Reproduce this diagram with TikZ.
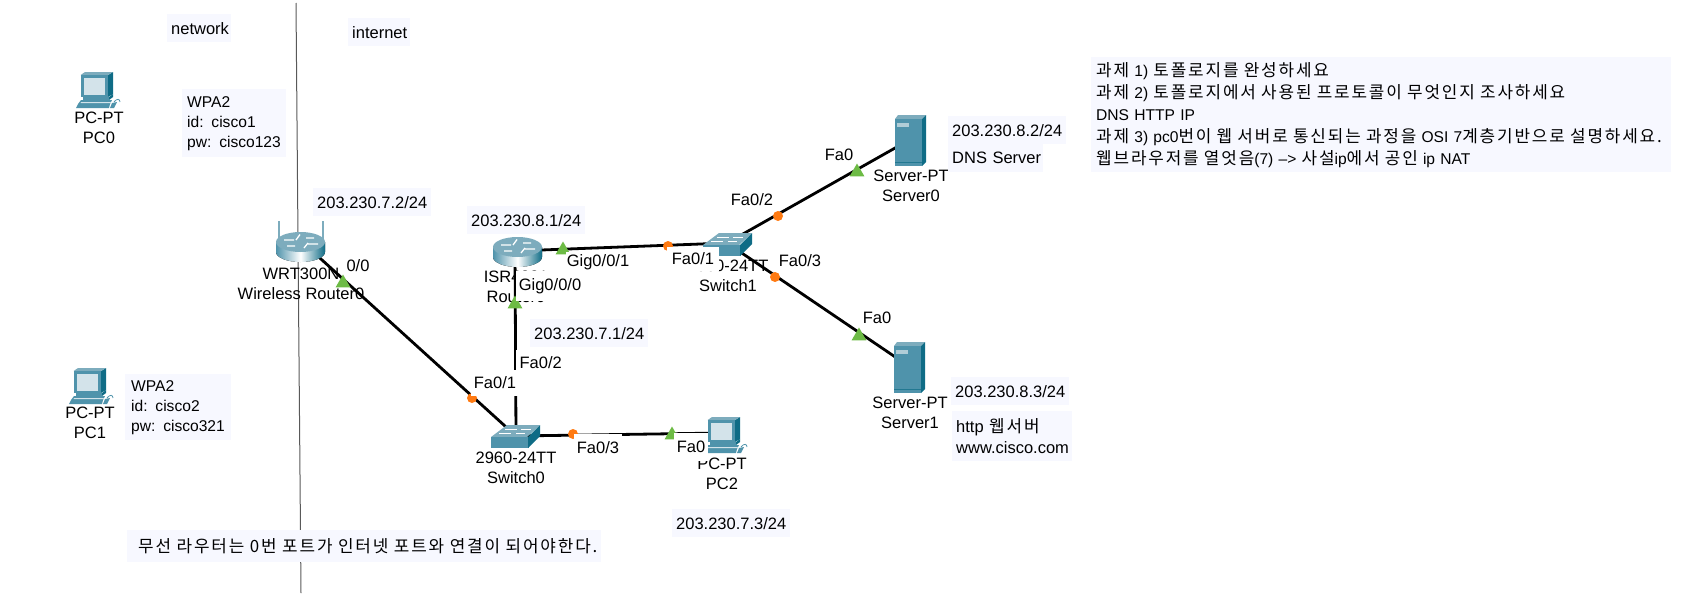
\documentclass[tikz,border=0pt]{standalone}
\usepackage{fontspec}
\usetikzlibrary{shapes.geometric}
\setmainfont{Liberation Sans}
\newfontfamily\krf[LetterSpace=11,WordSpace=1.2]{Noto Sans CJK KR}
\newcommand{\K}[1]{{\krf\fontsize{16.9}{20}\selectfont #1}}
\definecolor{boxbg}{HTML}{F7F8FF}
\definecolor{pcfront}{HTML}{4F93AB}
\definecolor{pcside}{HTML}{0F6C86}
\definecolor{pclight}{HTML}{D3E3EA}
\definecolor{pctop}{HTML}{7DACBD}
\definecolor{okgreen}{HTML}{6DBB45}
\definecolor{portor}{HTML}{FF7A12}
\tikzset{
  x=1pt,y=-1pt,
  every node/.style={font=\fontsize{16.5}{20.3}\selectfont,text=black,inner sep=0pt},
  bx/.style 2 args={fill=boxbg,anchor=north west,minimum height=#2pt,text width=#1pt-8pt,inner xsep=4pt,align=left},
  devlabel/.style={align=center},
  portlabel/.style={fill=white,inner xsep=1pt,inner ysep=2pt},
  anchorpt/.style={minimum size=2pt},
  link/.style={line width=2.8pt,black},
  divider/.style={line width=1pt,black!65},
  portdot/.style={circle,fill=portor,minimum size=10pt},
  porttri/.style={regular polygon,regular polygon sides=3,fill=okgreen,minimum size=17pt},
}
\newcommand{\pcicon}[2]{\begin{scope}[shift={(#1,#2)}]
  \fill[pcside] (32,3) -- (37,0) -- (37,22) -- (32,25) -- cycle;
  \fill[pctop] (4.7,3) -- (9,0) -- (37,0) -- (32,3) -- cycle;
  \fill[pcfront] (4.7,3) rectangle (32,25);
  \fill[pclight] (7.5,5.5) rectangle (29,22.5);
  \fill[pcfront] (7,25) rectangle (33,28);
  \fill[pcside] (33,28) -- (37,25) -- (37,22) -- (33,25) -- cycle;
  \fill[pcfront] (5,28) -- (36,28) -- (34,32) -- (2,32) -- cycle;
  \fill[pclight] (5,30) -- (35,30) -- (34.5,31) -- (4.5,31) -- cycle;
  \fill[pcfront] (2,32) -- (34,32) -- (33,36) -- (0,36) -- cycle;
  \fill[pcfront] (36,31) -- (41,30) -- (38,36) -- (34,36) -- cycle;
  \draw[pcfront,line width=.8pt] (38,30) .. controls (41,26) and (44,27) .. (44,30);
\end{scope}}
\newcommand{\servericon}[2]{\begin{scope}[shift={(#1,#2)}]
  \fill[pctop] (0,4) -- (3,0) -- (31,0) -- (27,4) -- cycle;
  \fill[pcside] (27,4) -- (31,0) -- (31,47) -- (27,51) -- cycle;
  \fill[pcfront] (0,4) rectangle (27,51);
  \fill[pcside!70!pcfront] (0,47) rectangle (27,48);
  \fill[pctop!60!white] (2,7.5) rectangle (14,12);
\end{scope}}
\newcommand{\routericon}[2]{\begin{scope}[shift={(#1,#2)}]
  \fill[left color=pcfront,right color=pcside,middle color=white] (0,10) -- (0,20) arc[start angle=180,end angle=0,x radius=24.5,y radius=10] -- (49,10) -- cycle;
  \fill[pctop] (24.5,10) ellipse[x radius=24.5,y radius=10];
  \draw[white,line width=1.3pt] (8,8) -- (18,8) (24,2.5) -- (20,8) (28,16) -- (32,11) (32,12) -- (42,12) (11,14) -- (19,14) (30,6) -- (38,6);
\end{scope}}
\newcommand{\switchicon}[2]{\begin{scope}[shift={(#1,#2)}]
  \fill[pctop] (0,12) -- (16,0) -- (49,0) -- (36,12) -- cycle;
  \fill[pcfront] (0,12) rectangle (38,23);
  \fill[pcside] (37,12) -- (49,0) -- (49,11) -- (37,23) -- cycle;
  \draw[white,line width=.8pt] (14,4) -- (26,4) (30,4) -- (40,4) (8,8) -- (20,8) (25,8) -- (34,8);
\end{scope}}
\begin{document}
\begin{tikzpicture}
\useasboundingbox (0,0) rectangle (1705,597);
% named anchors
\node[anchorpt] (wr) at (300,240) {};
\node[anchorpt] (isr) at (515,251) {};
\node[anchorpt] (sw0) at (516,436) {};
\node[anchorpt] (sw1) at (727,243) {};
\node[anchorpt] (srv0) at (911,139) {};
\node[anchorpt] (srv1) at (910,367) {};
\node[anchorpt] (pc2) at (722,433) {};
\coordinate (divtop) at (296,3);
\coordinate (divbot) at (301,593);
\draw[divider] (divtop) -- (divbot);
% device labels
\node[devlabel] (lpc0) at (99,127.5) {PC-PT\\PC0};
\node[devlabel] (lpc1) at (90,423) {PC-PT\\PC1};
\node[devlabel] (lwr) at (301,283.5) {WRT300N\\Wireless Router0};
\node[devlabel] (lisr) at (516,286.5) {ISR4331\\Router0};
\node[devlabel] (lsw0) at (516,467.5) {2960-24TT\\Switch0};
\node[devlabel] (lsw1) at (728,276) {2960-24TT\\Switch1};
\node[devlabel] (lpc2) at (722,473.5) {PC-PT\\PC2};
\node[devlabel] (lsrv0) at (911,186) {Server-PT\\Server0};
\node[devlabel] (lsrv1) at (910,412.5) {Server-PT\\Server1};
% links
\draw[link] (wr) -- (sw0);
\draw[link] (isr) -- (sw0);
\draw[link] (isr) -- (sw1);
\draw[link] (sw0) -- (pc2);
\draw[link] (sw1) -- (srv0);
\draw[link] (sw1) -- (srv1);
% icons
\pcicon{76}{72}
\pcicon{69}{368}
\pcicon{703}{417}
\draw[pctop,line width=1.2pt] (279,221) -- (279,240) (323,221) -- (323,240);
\routericon{276}{232}
\routericon{493}{237}
\switchicon{491}{425}
\switchicon{703}{233}
\servericon{895}{115}
\servericon{894}{342}
% port markers
\node[porttri] (t1) at (343,283) {};
\node[porttri] (t2) at (563,250) {};
\node[porttri] (t3) at (515,304) {};
\node[porttri] (t4) at (672,435) {};
\node[porttri] (t5) at (857,172) {};
\node[porttri] (t6) at (859,336) {};
\node[portdot] (d1) at (472,398) {};
\node[portdot] (d2) at (573,434) {};
\node[portdot] (d3) at (668,246) {};
\node[portdot] (d4) at (778,216) {};
\node[portdot] (d5) at (775,277) {};
% port labels
\node[portlabel] (p00) at (358,266) {0/0};
\node[portlabel] (pg1) at (598,262) {Gig0/0/1};
\node[portlabel,inner xsep=3pt,inner ysep=7pt] (pg0) at (550,286) {Gig0/0/0};
\node[portlabel,inner ysep=7pt,inner xsep=4pt] (pf2) at (540.7,363) {Fa0/2};
\node[portlabel,inner ysep=6.5pt,minimum width=48pt] (pf1) at (495,383) {Fa0/1};
\node[portlabel,inner ysep=8pt,inner xsep=3pt] (pf3) at (598,448) {Fa0/3};
\node[portlabel,inner xsep=3pt,inner ysep=8pt] (pf0) at (691,447) {Fa0};
\node[portlabel,inner xsep=5pt,inner ysep=6pt] (ps1) at (693,259) {Fa0/1};
\node[portlabel] (ps2) at (752,200) {Fa0/2};
\node[portlabel] (ps3) at (800,261) {Fa0/3};
\node[portlabel] (ps0) at (839,155) {Fa0};
\node[portlabel] (ps4) at (877,318) {Fa0};
% notes
\node[bx={64}{28},align=center] (tnet) at (167,14) {network};
\node[bx={62}{28},align=center] (tint) at (348,18) {internet};
\node[bx={102}{68},inner xsep=5pt,font=\fontsize{15.6}{20}\selectfont] (twp1) at (182,89) {\mbox{WPA2}\\\mbox{id: cisco1}\\\mbox{pw: cisco123}};
\node[bx={102}{66},inner xsep=6pt,font=\fontsize{15.6}{20}\selectfont] (twp2) at (125,374) {\mbox{WPA2}\\\mbox{id: cisco2}\\\mbox{pw: cisco321}};
\node[bx={118}{28}] (ip1) at (313,188) {203.230.7.2/24};
\node[bx={118}{28}] (ip2) at (467,206) {203.230.8.1/24};
\node[bx={118}{28}] (ip3) at (530,319) {203.230.7.1/24};
\node[bx={118}{28}] (ip4) at (672,509) {203.230.7.3/24};
\node[bx={118}{28}] (ip5) at (948,116) {203.230.8.2/24};
\node[bx={95}{28}] (tdns) at (948,144) {\mbox{DNS Server}};
\node[bx={118}{28}] (ip6) at (951,377) {203.230.8.3/24};
\node[bx={120}{50}] (thttp) at (952,411) {\mbox{http \K{웹서버}}\\\mbox{www.cisco.com}};
\node[bx={474}{32},inner xsep=11pt,text width=452pt] (tnote) at (127,530) {\mbox{\raisebox{1.5pt}{\K{무선 라우터는 0번 포트가 인터넷 포트와 연결이 되어야한다.}}}};
\node[bx={578}{115},inner xsep=5pt,font=\fontsize{15.6}{22}\selectfont] (ttask) at (1091,57) {\mbox{\K{과제} 1) \K{토폴로지를 완성하세요}}\\\mbox{\K{과제} 2) \K{토폴로지에서 사용된 프로토콜이 무엇인지 조사하세요}}\\\mbox{DNS HTTP IP}\\\mbox{\K{과제} 3) pc0\K{번이 웹 서버로 통신되는 과정을} OSI 7\K{계층기반으로 설명하세요.}}\\\mbox{\K{웹브라우저를 열엇음}(7) --> \K{사설}ip\K{에서 공인} ip NAT}};
\end{tikzpicture}
\end{document}
